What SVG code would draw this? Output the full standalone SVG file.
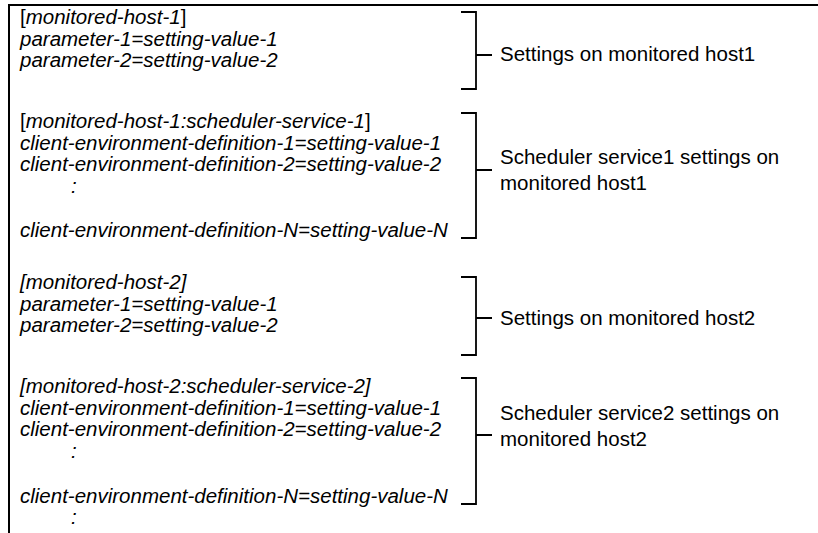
<svg xmlns="http://www.w3.org/2000/svg" width="818" height="533" viewBox="0 0 818 533">
  <style>
    .frame { fill: none; stroke: #000; stroke-width: 2; }
    .brace { fill: none; stroke: #000; stroke-width: 1.8; }
    .code { font-family: "Liberation Sans", Arial, sans-serif; font-size: 20.5px; font-style: italic; fill: #000; }
    .up { font-style: normal; }
    .label { font-family: "Liberation Sans", Arial, sans-serif; font-size: 20.5px; fill: #000; }
  </style>
  <rect width="818" height="533" fill="#fff"/>
  <!-- open frame: top and left edges only -->
  <path class="frame" d="M9,533 V5 H818"/>

  <g id="host1">
    <text class="code" x="20" y="24"><tspan class="up">[</tspan>monitored-host-1<tspan class="up">]</tspan></text>
    <text class="code" x="20" y="46">parameter-1=setting-value-1</text>
    <text class="code" x="20" y="67">parameter-2=setting-value-2</text>
  </g>

  <g id="service1">
    <text class="code" x="20" y="128"><tspan class="up">[</tspan>monitored-host-1:scheduler-service-1<tspan class="up">]</tspan></text>
    <text class="code" x="20" y="150">client-environment-definition-1=setting-value-1</text>
    <text class="code" x="20" y="171">client-environment-definition-2=setting-value-2</text>
    <text class="code" x="71" y="193">:</text>
    <text class="code" x="20" y="237">client-environment-definition-N=setting-value-N</text>
  </g>

  <g id="host2">
    <text class="code" x="20" y="289">[monitored-host-2]</text>
    <text class="code" x="20" y="311">parameter-1=setting-value-1</text>
    <text class="code" x="20" y="332">parameter-2=setting-value-2</text>
  </g>

  <g id="service2">
    <text class="code" x="20" y="393">[monitored-host-2:scheduler-service-2]</text>
    <text class="code" x="20" y="415">client-environment-definition-1=setting-value-1</text>
    <text class="code" x="20" y="436">client-environment-definition-2=setting-value-2</text>
    <text class="code" x="71" y="458">:</text>
    <text class="code" x="20" y="503">client-environment-definition-N=setting-value-N</text>
    <text class="code" x="71" y="524">:</text>
  </g>

  <g id="connectors">
    <path class="brace" d="M461,12 H476 V89 H461 M476,55 H492"/>
    <path class="brace" d="M461,113 H476 V238 H461 M476,170 H492"/>
    <path class="brace" d="M461,277 H476 V355 H461 M476,318 H492"/>
    <path class="brace" d="M461,378 H476 V504 H461 M476,435 H492"/>
  </g>

  <g id="labels">
    <text class="label" x="500" y="61">Settings on monitored host1</text>
    <text class="label" x="500" y="164">Scheduler service1 settings on</text>
    <text class="label" x="500" y="190">monitored host1</text>
    <text class="label" x="500" y="325">Settings on monitored host2</text>
    <text class="label" x="500" y="420">Scheduler service2 settings on</text>
    <text class="label" x="500" y="446">monitored host2</text>
  </g>
</svg>
